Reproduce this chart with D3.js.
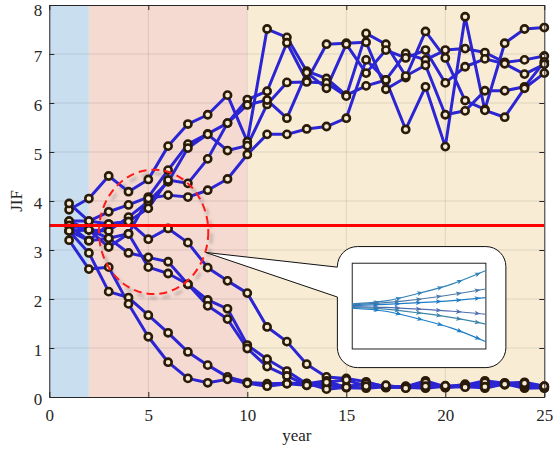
<!DOCTYPE html>
<html>
<head>
<meta charset="utf-8">
<script src="https://cdn.jsdelivr.net/npm/d3@7"></script>
<style>
  body { margin: 0; background: #fff; }
  svg { display: block; }
  text { font-family: "Liberation Serif", "DejaVu Serif", serif; fill: #262626; }
</style>
</head>
<body>
<svg id="chart" width="553" height="451"></svg>
<script>
// ---- data -------------------------------------------------------------
const years = d3.range(1, 26);

// journals that climb above the threshold
const rising1 = [3.82, 4.05, 4.51, 4.19, 4.44, 5.12, 5.57, 5.76, 6.16, 5.21, 7.51, 7.34, 6.65, 6.50, 6.16, 6.35, 6.47, 7.01, 6.88, 7.08, 7.11, 7.03, 6.83, 6.88, 6.96];
const rising2 = [3.95, 3.59, 3.78, 3.92, 4.08, 4.63, 5.16, 5.37, 5.59, 6.07, 6.24, 7.23, 6.45, 7.20, 7.22, 7.24, 6.28, 6.52, 7.46, 6.92, 6.05, 5.87, 7.22, 7.51, 7.54];
const rising3 = [3.59, 3.41, 3.39, 3.67, 3.99, 4.39, 5.08, 5.36, 5.03, 5.13, 5.97, 6.42, 6.43, 6.41, 6.14, 7.42, 7.20, 6.55, 6.77, 5.76, 5.84, 6.25, 6.25, 6.33, 6.84];
const rising4 = [3.50, 3.19, 3.53, 3.58, 3.85, 4.43, 4.36, 4.86, 5.59, 5.96, 6.06, 5.69, 6.62, 6.30, 7.20, 6.61, 7.08, 6.92, 7.08, 6.41, 6.74, 6.90, 6.80, 6.59, 6.79];
const rising5 = [3.39, 3.41, 3.24, 3.33, 4.05, 4.12, 4.08, 4.22, 4.45, 4.95, 5.36, 5.36, 5.47, 5.52, 5.69, 6.88, 6.47, 5.46, 6.33, 5.11, 7.76, 5.85, 5.71, 6.30, 6.61];

// journals that fall below the threshold
const falling1 = [3.59, 3.59, 3.53, 3.58, 3.22, 3.44, 3.15, 2.64, 2.37, 2.12, 1.43, 1.13, 0.67, 0.41, 0.38, 0.31, 0.20, 0.21, 0.33, 0.21, 0.24, 0.33, 0.28, 0.30, 0.22];
const falling2 = [3.39, 3.19, 3.24, 2.94, 2.85, 2.76, 2.30, 1.98, 1.80, 1.06, 0.77, 0.53, 0.27, 0.33, 0.19, 0.18, 0.21, 0.20, 0.18, 0.22, 0.23, 0.18, 0.27, 0.18, 0.19];
const falling3 = [3.50, 3.41, 3.06, 3.33, 2.65, 2.52, 2.30, 1.86, 1.59, 0.99, 0.62, 0.43, 0.24, 0.24, 0.22, 0.25, 0.19, 0.22, 0.26, 0.20, 0.26, 0.25, 0.29, 0.22, 0.21];
const falling4 = [3.39, 2.94, 2.15, 2.03, 1.67, 1.31, 0.92, 0.65, 0.41, 0.30, 0.27, 0.28, 0.28, 0.16, 0.20, 0.28, 0.22, 0.19, 0.30, 0.19, 0.22, 0.30, 0.25, 0.26, 0.18];
const falling5 = [3.20, 2.61, 2.65, 1.90, 1.23, 0.71, 0.38, 0.29, 0.36, 0.28, 0.22, 0.27, 0.24, 0.30, 0.35, 0.22, 0.24, 0.18, 0.22, 0.23, 0.20, 0.21, 0.26, 0.28, 0.22];

const allSeries = [rising1, rising2, rising3, rising4, rising5,
                   falling1, falling2, falling3, falling4, falling5];

// phases of the time axis (years)
const phaseStart = [0, 2, 10];
const phaseEnd   = [2, 10, 25];

const threshold = 3.5;

// highlighted region (centre and half-axes in data units)
const focusCenter = [5.27, 3.37];
const focusRadius = [2.76, 1.27];

const xTicks = [0, 5, 10, 15, 20, 25];
const yTicks = [0, 1, 2, 3, 4, 5, 6, 7, 8];

// inset: streamlines, sampled at fractions of the inset width
const flowT = [0, 0.25, 0.5, 0.75, 1];
const flow1 = [0.05, 0.12, 0.30, 0.52, 0.83];
const flow2 = [0.03, 0.08, 0.16, 0.27, 0.40];
const flow3 = [0.01, 0.04, 0.08, 0.13, 0.20];
const flow4 = [-0.01, -0.03, -0.07, -0.12, -0.19];
const flow5 = [-0.03, -0.07, -0.16, -0.27, -0.42];
const flow6 = [-0.05, -0.12, -0.30, -0.52, -0.83];
const flows = [flow1, flow2, flow3, flow4, flow5, flow6];
const arrowAt = [0.2, 0.36, 0.52, 0.67, 0.82, 0.96];

// ---- scales -----------------------------------------------------------
const svg = d3.select('#chart');
const x = d3.scaleLinear().domain([0, 25]).range([49.3, 544.3]);
const y = d3.scaleLinear().domain([0, 8]).range([397, 5]);

const defs = svg.append('defs');
defs.append('filter').attr('id', 'soft')
  .attr('x', '-20%').attr('y', '-50%').attr('width', '140%').attr('height', '200%')
  .append('feGaussianBlur').attr('stdDeviation', 1.8);
defs.append('clipPath').attr('id', 'plotClip')
  .append('rect').attr('x', x(0)).attr('y', y(8))
  .attr('width', x(25) - x(0)).attr('height', y(0) - y(8));

// ---- background phases ------------------------------------------------
const bandColors = ['#c9dff0', '#f5dad1', '#f8edd4'];
svg.append('g').selectAll('rect')
  .data(phaseStart.map((s, i) => ({ s, e: phaseEnd[i], i })))
  .join('rect')
  .attr('x', d => x(d.s)).attr('y', y(8))
  .attr('width', d => x(d.e) - x(d.s)).attr('height', y(0) - y(8))
  .attr('fill', d => bandColors[d.i]);

// ---- grid -------------------------------------------------------------
const grid = svg.append('g').attr('stroke', '#000').attr('stroke-opacity', 0.1).attr('stroke-width', 1);
grid.selectAll('.gx').data(xTicks.slice(1, -1)).join('line')
  .attr('x1', d => x(d)).attr('x2', d => x(d)).attr('y1', y(0)).attr('y2', y(8));
grid.selectAll('.gy').data(yTicks.slice(1, -1)).join('line')
  .attr('x1', x(0)).attr('x2', x(25)).attr('y1', d => y(d)).attr('y2', d => y(d));

// ---- threshold shadow -------------------------------------------------
const plot = svg.append('g').attr('clip-path', 'url(#plotClip)');
plot.append('line')
  .attr('x1', x(0)).attr('x2', x(25)).attr('y1', y(threshold) + 4).attr('y2', y(threshold) + 4)
  .attr('stroke', '#7a7a7a').attr('stroke-opacity', 0.45).attr('stroke-width', 4)
  .attr('filter', 'url(#soft)');

// ---- highlighted region shadow --------------------------------------
const ell = {
  cx: x(focusCenter[0]), cy: y(focusCenter[1]),
  rx: x(focusCenter[0] + focusRadius[0]) - x(focusCenter[0]),
  ry: y(focusCenter[1]) - y(focusCenter[1] + focusRadius[1])
};
plot.append('ellipse')
  .attr('cx', ell.cx + 3).attr('cy', ell.cy + 4).attr('rx', ell.rx).attr('ry', ell.ry)
  .attr('fill', 'none').attr('stroke', '#777').attr('stroke-opacity', 0.4)
  .attr('stroke-width', 3).attr('stroke-dasharray', '8,5').attr('filter', 'url(#soft)');

// ---- series -----------------------------------------------------------
const line = d3.line().x((d, i) => x(years[i])).y(d => y(d));
const seriesG = plot.append('g');
allSeries.forEach(s => {
  seriesG.append('path').attr('d', line(s))
    .attr('fill', 'none').attr('stroke', '#2b25d3').attr('stroke-width', 3)
    .attr('stroke-linejoin', 'round');
});
// markers are not clipped, so the last year shows whole circles on the frame
const markerG = svg.append('g');
allSeries.forEach(s => {
  markerG.append('g').selectAll('circle').data(s).join('circle')
    .attr('cx', (d, i) => x(years[i])).attr('cy', d => y(d)).attr('r', 3.6)
    .attr('fill', '#f6ecd6').attr('stroke', '#2a1a08').attr('stroke-width', 2.6);
});

// threshold line
const overlay = svg.append('g').attr('clip-path', 'url(#plotClip)');
overlay.append('line')
  .attr('x1', x(0)).attr('x2', x(25)).attr('y1', y(threshold)).attr('y2', y(threshold))
  .attr('stroke', '#ff0000').attr('stroke-width', 3);

overlay.append('ellipse')
  .attr('cx', ell.cx).attr('cy', ell.cy).attr('rx', ell.rx).attr('ry', ell.ry)
  .attr('fill', 'none').attr('stroke', '#ff1a1a').attr('stroke-width', 2)
  .attr('stroke-dasharray', '8,5');

// ---- callout with inset ----------------------------------------------
const L = x(14.55), R = x(23.06), T = y(3.07), B = y(0.6), r = 20;
const tipX = x(7.9), tipY = y(2.95);
const jA = y(2.65), jB = y(2.04);
const callout = [
  `M${L + r},${T}`, `H${R - r}`, `A${r},${r} 0 0 1 ${R},${T + r}`,
  `V${B - r}`, `A${r},${r} 0 0 1 ${R - r},${B}`, `H${L + r}`,
  `A${r},${r} 0 0 1 ${L},${B - r}`, `V${jB}`, `L${tipX},${tipY}`, `L${L},${jA}`,
  `V${T + r}`, `A${r},${r} 0 0 1 ${L + r},${T}`, 'Z'
].join(' ');
svg.append('path').attr('d', callout)
  .attr('fill', '#fff').attr('stroke', '#111').attr('stroke-width', 1);

const iL = x(15.3), iR = x(22.05), iT = y(2.73), iB = y(0.98);
svg.append('rect').attr('x', iL).attr('y', iT).attr('width', iR - iL).attr('height', iB - iT)
  .attr('fill', '#fff').attr('stroke', '#222').attr('stroke-width', 1);

const fx = d3.scaleLinear().domain([0, 1]).range([iL, iR]);
const fy = d3.scaleLinear().domain([-1, 1]).range([iB, iT]);
const flowLine = d3.line().x((d, i) => fx(flowT[i])).y(d => fy(d)).curve(d3.curveMonotoneX);
const flowColors = ['#2f83b8', '#4a78a8', '#1f7bc4', '#4f6fb0', '#3d86a8', '#1a7cc6'];
const flowG = svg.append('g');
flows.forEach((f, k) => {
  const p = flowG.append('path').attr('d', flowLine(f))
    .attr('fill', 'none').attr('stroke', flowColors[k]).attr('stroke-width', 1.2);
  const node = p.node();
  const len = node.getTotalLength();
  arrowAt.forEach(a => {
    const l = a * len;
    const p0 = node.getPointAtLength(Math.max(0, l - 1));
    const p1 = node.getPointAtLength(l);
    const ang = Math.atan2(p1.y - p0.y, p1.x - p0.x) * 180 / Math.PI;
    flowG.append('path').attr('d', 'M0,0 L-6,-2.4 L-4.5,0 L-6,2.4 Z')
      .attr('transform', `translate(${p1.x},${p1.y}) rotate(${ang})`)
      .attr('fill', flowColors[k]);
  });
});

// ---- axes -------------------------------------------------------------
const axisStyle = g => {
  g.select('.domain').attr('stroke', '#262626');
  g.selectAll('.tick line').attr('stroke', '#262626');
  g.selectAll('text').attr('font-size', 17).attr('fill', '#262626')
    .attr('font-family', '"Liberation Serif", "DejaVu Serif", serif');
};
svg.append('g').attr('transform', `translate(0,${y(0)})`)
  .call(d3.axisBottom(x).tickValues(xTicks).tickSizeInner(-5).tickSizeOuter(0).tickPadding(12))
  .call(axisStyle);
svg.append('g').attr('transform', `translate(${x(0)},0)`)
  .call(d3.axisLeft(y).tickValues(yTicks).tickSizeInner(-5).tickSizeOuter(0).tickPadding(7))
  .call(axisStyle)
  .call(g => g.selectAll('text').attr('dy', '0.46em'))
  // keep the topmost label inside the page
  .call(g => g.selectAll('.tick').filter(d => d === 8).select('text').attr('y', 2.5));
svg.append('g').attr('transform', `translate(0,${y(8)})`)
  .call(d3.axisTop(x).tickValues(xTicks).tickSizeInner(-5).tickSizeOuter(0).tickFormat(''))
  .call(axisStyle);
svg.append('g').attr('transform', `translate(${x(25)},0)`)
  .call(d3.axisRight(y).tickValues(yTicks).tickSizeInner(-5).tickSizeOuter(0).tickFormat(''))
  .call(axisStyle);

svg.append('text').attr('x', (x(0) + x(25)) / 2).attr('y', 441)
  .attr('text-anchor', 'middle').attr('font-size', 17).text('year');
svg.append('text').attr('transform', `translate(22,${y(4)}) rotate(-90)`)
  .attr('text-anchor', 'middle').attr('font-size', 17).text('JIF');
</script>
</body>
</html>
